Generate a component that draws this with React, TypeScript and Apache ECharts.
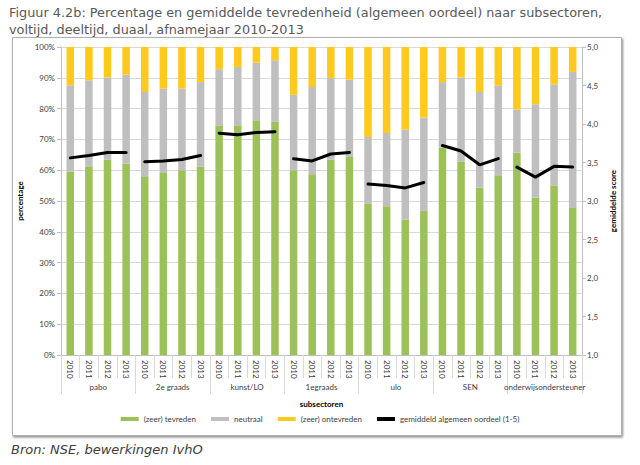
import React, { useEffect, useRef } from "react";
import * as echarts from "echarts";

const groups = ["pabo", "2e graads", "kunst/LO", "1egraads", "ulo", "SEN", "onderwijsondersteuner"];
const years = ["2010", "2011", "2012", "2013"];

const tevreden = [
  59.5, 61.3, 63.5, 62.2,
  57.8, 59.1, 60.0, 61.1,
  74.4, 74.6, 76.2, 75.7,
  60.0, 58.7, 63.5, 64.3,
  49.2, 48.3, 44.0, 46.8,
  67.4, 62.7, 54.4, 58.4,
  65.7, 51.1, 55.0, 47.7,
];
const neutraal = [
  28.1, 27.9, 26.6, 28.8,
  27.6, 27.4, 26.5, 27.5,
  18.4, 18.9, 18.7, 20.0,
  24.5, 28.3, 26.4, 25.1,
  21.6, 23.8, 29.2, 30.3,
  21.2, 27.4, 31.0, 29.0,
  14.0, 30.3, 32.9, 44.2,
];
const ontevreden = [
  12.4, 10.8, 9.9, 9.0,
  14.6, 13.5, 13.5, 11.4,
  7.2, 6.5, 5.1, 4.3,
  15.5, 13.0, 10.1, 10.6,
  29.2, 27.9, 26.8, 22.9,
  11.4, 9.9, 14.6, 12.6,
  20.3, 18.6, 12.1, 8.1,
];
const score = [
  3.56, 3.59, 3.63, 3.63,
  3.51, 3.52, 3.54, 3.59,
  3.88, 3.86, 3.89, 3.90,
  3.55, 3.52, 3.61, 3.63,
  3.22, 3.20, 3.17, 3.24,
  3.72, 3.65, 3.47, 3.55,
  3.44, 3.31, 3.45, 3.44,
];

const categories = groups.flatMap((g) => years.map((y) => g + " " + y));

const LBL = "Lato, 'Noto Sans', sans-serif";
const GREEN = "#9bc158";
const GRAY = "#bfbfbf";
const YELLOW = "#ffc91d";
const LINE_NAME = "gemiddeld algemeen oordeel (1-5)";

export default function App() {
  const ref = useRef<HTMLDivElement>(null);
  useEffect(() => {
    if (!ref.current) return;
    const chart = echarts.init(ref.current, null, { renderer: "svg" });
    const lineSeries = groups.map((g, gi) => ({
      name: LINE_NAME,
      type: "line",
      xAxisIndex: 0,
      yAxisIndex: 1,
      symbol: "none",
      z: 5,
      lineStyle: { color: "#000", width: 3, cap: "round" },
      itemStyle: { color: "#000" },
      data: score.map((v, i) => (Math.floor(i / years.length) === gi ? v : null)),
    }));
    chart.setOption({
      animation: false,
      backgroundColor: "#fff",
      title: [
        {
          text: "Figuur 4.2b: Percentage en gemiddelde tevredenheid (algemeen oordeel) naar subsectoren,\nvoltijd, deeltijd, duaal, afnamejaar 2010-2013",
          left: 9,
          top: 4,
          padding: 0,
          textStyle: {
            fontFamily: "'DejaVu Sans', Verdana, sans-serif",
            fontSize: 12.85,
            fontWeight: "normal",
            color: "#595959",
            lineHeight: 17,
          },
        },
        {
          text: "Bron: NSE, bewerkingen IvhO",
          left: 11,
          top: 443,
          padding: 0,
          textStyle: {
            fontFamily: "'DejaVu Sans', Verdana, sans-serif",
            fontSize: 13,
            fontStyle: "italic",
            fontWeight: "normal",
            color: "#404040",
          },
        },
      ],
      graphic: [
        {
          type: "rect",
          z: -10,
          shape: { x: 12.5, y: 37.5, width: 609, height: 398 },
          style: {
            fill: "#fff",
            stroke: "#b0b0b0",
            lineWidth: 1,
            shadowBlur: 2,
            shadowOffsetX: 1,
            shadowOffsetY: 1.5,
            shadowColor: "rgba(0,0,0,0.45)",
          },
        },
      ],
      legend: {
        left: "center",
        top: 415,
        padding: 0,
        itemWidth: 18,
        itemHeight: 4,
        itemGap: 15,
        textStyle: { fontFamily: LBL, fontSize: 8, color: "#404040" },
        data: [
          { name: "(zeer) tevreden", icon: "rect" },
          { name: "neutraal", icon: "rect" },
          { name: "(zeer) ontevreden", icon: "rect" },
          { name: LINE_NAME, icon: "rect" },
        ],
      },
      grid: { left: 61, right: 58, top: 47, bottom: 110 },
      xAxis: [
        {
          type: "category",
          data: categories,
          position: "bottom",
          axisLine: { lineStyle: { color: "#bfbfbf" } },
          axisTick: { show: true, interval: 0, length: 23, lineStyle: { color: "#d9d9d9" } },
          axisLabel: {
            interval: 0,
            rotate: -90,
            margin: 5,
            fontFamily: LBL,
            fontSize: 8,
            color: "#404040",
            formatter: (v: string) => v.slice(-4),
          },
        },
        {
          type: "category",
          data: groups,
          position: "bottom",
          axisLine: { show: true, lineStyle: { color: "#bfbfbf" } },
          axisTick: { show: true, interval: 0, length: 39, lineStyle: { color: "#d9d9d9" } },
          axisLabel: { interval: 0, margin: 28, fontFamily: LBL, fontSize: 8, color: "#404040" },
          name: "subsectoren",
          nameLocation: "middle",
          nameGap: 45,
          nameTextStyle: { fontFamily: LBL, fontSize: 8, fontWeight: "bold", color: "#000" },
        },
      ],
      yAxis: [
        {
          type: "value",
          min: 0,
          max: 100,
          interval: 10,
          name: "percentage",
          nameLocation: "middle",
          nameGap: 32,
          nameRotate: 90,
          nameTextStyle: { fontFamily: LBL, fontSize: 8, fontWeight: "bold", color: "#000" },
          axisLine: { show: true, lineStyle: { color: "#bfbfbf" } },
          axisTick: { show: true, length: 4, lineStyle: { color: "#bfbfbf" } },
          axisLabel: { margin: 6, fontFamily: LBL, fontSize: 8, color: "#404040", formatter: "{value}%" },
          splitLine: { show: true, lineStyle: { color: "#d9d9d9" } },
        },
        {
          type: "value",
          min: 1,
          max: 5,
          interval: 0.5,
          position: "right",
          name: "gemiddelde score",
          nameLocation: "middle",
          nameGap: 22,
          nameRotate: 90,
          nameTextStyle: { fontFamily: LBL, fontSize: 8, fontWeight: "bold", color: "#000" },
          axisLine: { show: true, lineStyle: { color: "#bfbfbf" } },
          axisTick: { show: true, length: 4, lineStyle: { color: "#bfbfbf" } },
          axisLabel: {
            margin: 5,
            fontFamily: LBL,
            fontSize: 8,
            color: "#404040",
            formatter: (v: number) => v.toFixed(1).replace(".", ","),
          },
          splitLine: { show: false },
        },
      ],
      series: [
        {
          name: "(zeer) tevreden",
          type: "bar",
          stack: "pct",
          barWidth: 7.5,
          itemStyle: { color: GREEN },
          data: tevreden,
        },
        {
          name: "neutraal",
          type: "bar",
          stack: "pct",
          barWidth: 7.5,
          itemStyle: { color: GRAY },
          data: neutraal,
        },
        {
          name: "(zeer) ontevreden",
          type: "bar",
          stack: "pct",
          barWidth: 7.5,
          itemStyle: { color: YELLOW },
          data: ontevreden,
        },
        ...lineSeries,
      ],
    });
    return () => chart.dispose();
  }, []);
  return (
    <div
      ref={ref}
      style={{ position: "absolute", left: 0, top: 0, width: 640, height: 465, background: "#fff" }}
    />
  );
}
